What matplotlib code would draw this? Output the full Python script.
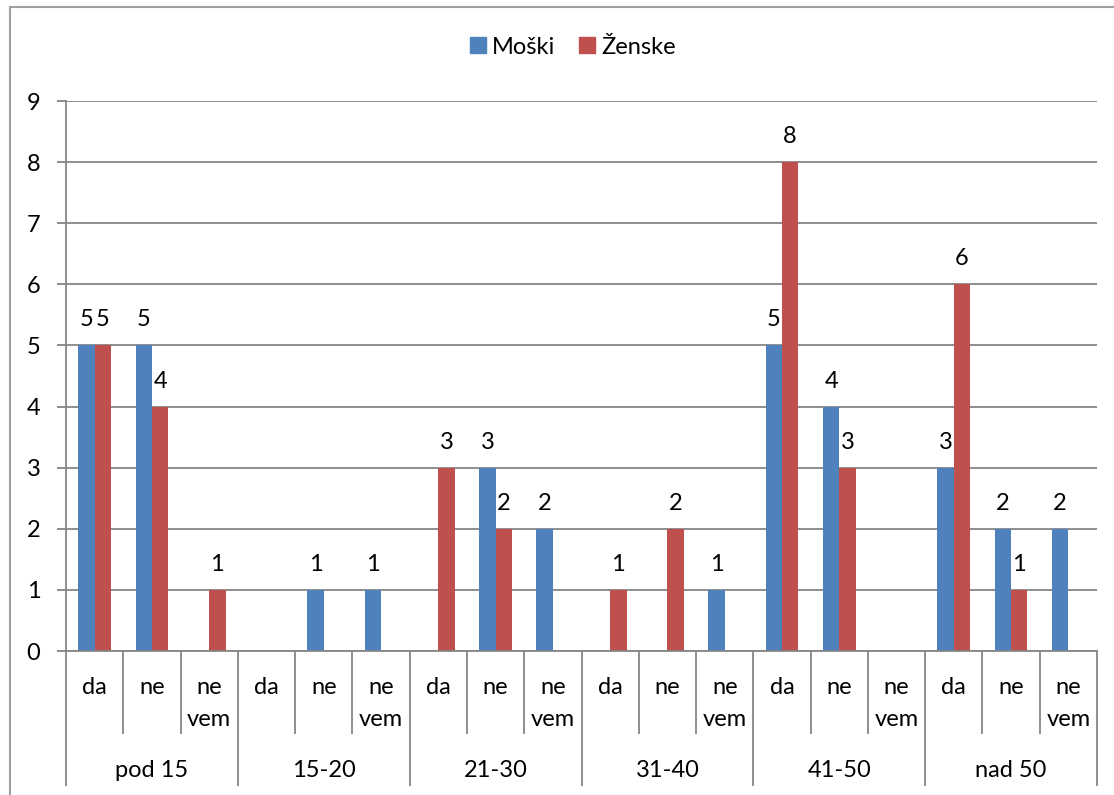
import numpy as np
import matplotlib
matplotlib.use("Agg")
import matplotlib.pyplot as plt
import matplotlib.transforms as mtransforms
from matplotlib.lines import Line2D
from matplotlib.patches import Patch

plt.rcParams['font.family'] = ['Lato', 'DejaVu Sans']

# survey answers by age group
groups = ['pod 15', '15-20', '21-30', '31-40', '41-50', 'nad 50']
answers = ['da', 'ne', 'ne\nvem']
moski = [5, 5, 0, 0, 1, 1, 0, 3, 2, 0, 0, 1, 5, 4, 0, 3, 2, 2]
zenske = [5, 4, 1, 0, 0, 0, 3, 2, 0, 1, 2, 0, 8, 3, 0, 6, 1, 0]

blue = '#4F81BD'
red = '#C0504D'
grey = '#868686'
fs = 17

W, H = 1114, 795
fig = plt.figure(figsize=(W / 100, H / 100), dpi=100)
x0, x1, y0, y1 = 66, 1097, 651, 101
ax = fig.add_axes([x0 / W, 1 - y0 / H, (x1 - x0) / W, (y0 - y1) / H])

n = len(moski)
x = np.arange(n) + 0.5
w = 1 / 3.5
bm = ax.bar(x - w / 2, moski, w, color=blue, edgecolor='none')
bz = ax.bar(x + w / 2, zenske, w, color=red, edgecolor='none')

# value labels above non-empty bars
for bars, vals in ((bm, moski), (bz, zenske)):
    for b, v in zip(bars, vals):
        if v:
            ax.annotate(str(v), (b.get_x() + b.get_width() / 2, v),
                        xytext=(0, 13.7), textcoords='offset points',
                        ha='center', va='baseline', fontsize=fs)

ax.set_xlim(0, n)
ax.set_ylim(0, 9)
ax.set_yticks(range(10))
ax.yaxis.grid(True, color=grey, lw=1.3)
ax.set_axisbelow(True)
ax.tick_params(axis='y', length=6.5, width=1.3, color=grey, pad=12, labelsize=fs)
ax.set_xticks([])
for s in ('top', 'right'):
    ax.spines[s].set_visible(False)
for s in ('left', 'bottom'):
    ax.spines[s].set_color(grey)
    ax.spines[s].set_linewidth(1.3)

# two-level category axis
trans = mtransforms.blended_transform_factory(ax.transData, ax.transAxes)
ph = y0 - y1
inner = -(733 - y0) / ph
outer = -(785 - y0) / ph
for i in range(n + 1):
    bottom = outer if i % 3 == 0 else inner
    ax.add_line(Line2D([i, i], [0, bottom], transform=trans, color=grey,
                       lw=1.3, clip_on=False))
for i in range(n):
    lines = answers[i % 3].split('\n')
    for k, t in enumerate(lines):
        yb = -((694 + 32 * k) - y0) / ph
        ax.text(x[i], yb, t, transform=trans, ha='center', va='baseline',
                fontsize=fs)
for g, name in enumerate(groups):
    ax.text(3 * g + 1.5, -(777 - y0) / ph, name, transform=trans,
            ha='center', va='baseline', fontsize=fs)

# legend
handles = [Patch(color=blue), Patch(color=red)]
fig.legend(handles, ['Moški', 'Ženske'], loc='center',
           bbox_to_anchor=(573 / W, 1 - 47 / H), ncol=2, frameon=False,
           fontsize=fs, handlelength=0.68, handleheight=0.68,
           handletextpad=0.25, columnspacing=1.0)

# chart border
fig.add_artist(Line2D([10 / W, 10 / W], [0, 1 - 7 / H], color='#A0A0A0', lw=1.5))
fig.add_artist(Line2D([10 / W, 1], [1 - 7 / H, 1 - 7 / H], color='#A0A0A0', lw=1.5))

fig.savefig('out.png', dpi=100)
